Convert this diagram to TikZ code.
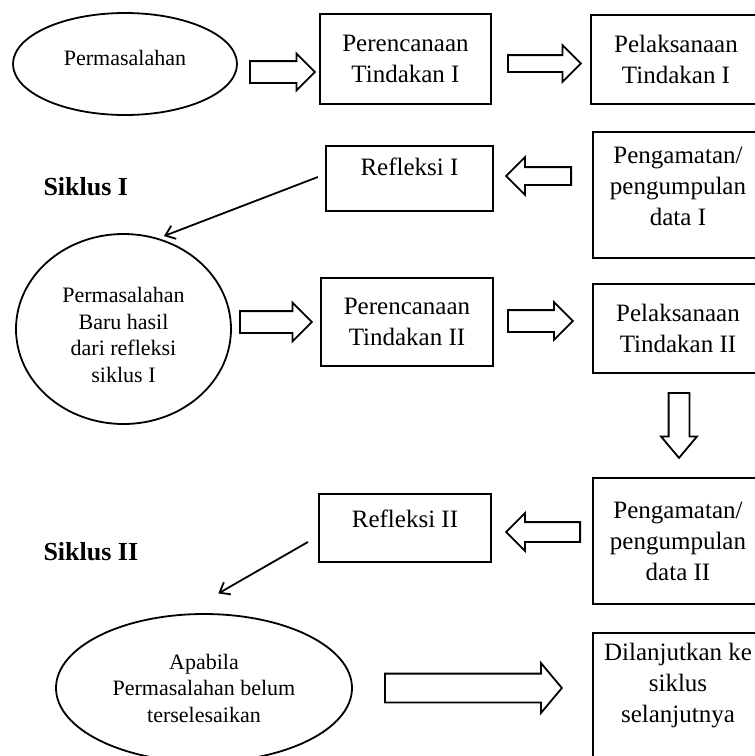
\documentclass[tikz,border=0pt]{standalone}
\usepackage{fontspec}
\setmainfont{Liberation Serif}
\usetikzlibrary{arrows.meta,positioning,calc,shapes.geometric,shapes.arrows}

\begin{document}
\begin{tikzpicture}[
  x=1pt, y=-1pt,
  box/.style={draw,line width=2.2pt,inner sep=0pt,align=center,
    font=\fontsize{25}{31}\selectfont},
  oval/.style={draw,ellipse,line width=1.8pt,inner sep=0pt,align=center,
    font=\fontsize{22}{26.5}\selectfont},
  blk/.style={draw,single arrow,line width=1.8pt,fill=white,anchor=tail,
    inner xsep=0pt,single arrow head indent=0pt},
  arr/.style={-{Straight Barb[length=9pt,width=14pt]},line width=1.8pt},
  siklus/.style={font=\fontsize{26}{30}\selectfont\bfseries,anchor=base west}
]
\useasboundingbox (0,0) rectangle (755,756);
\fill[white] (0,0) rectangle (755,756);
\clip (0,0) rectangle (755,756);
% Siklus I
\node[oval,minimum width=224pt,minimum height=102pt,text height=15pt,text depth=13pt] (masalah1) at (125,64) {Permasalahan};
\node[box,minimum width=171pt,minimum height=90pt] (rencana1) at (405.5,59) {Perencanaan\\Tindakan I};
\node[box,minimum width=170pt,minimum height=89pt] (laksana1) at (676,59.5) {Pelaksanaan\\Tindakan I};
\node[box,minimum width=170pt,minimum height=126pt,text height=80pt,text depth=20pt] (amat1) at (678,195) {Pengamatan/\\pengumpulan\\data I};
\node[box,minimum width=167pt,minimum height=65pt,text depth=24pt] (refleksi1) at (409.5,178.5) {Refleksi I};
\node[blk,inner ysep=10pt,single arrow head extend=7.5pt,minimum height=65pt] (b1) at (249,72) {};
\node[blk,inner ysep=7.5pt,single arrow head extend=10pt,minimum height=73pt] (b2) at (507,63.5) {};
\node[blk,rotate=180,inner ysep=8pt,single arrow head extend=10pt,minimum height=65pt] (b3) at (572,176) {};
\node[siklus] (siklus1) at (40,195) {Siklus I};
% Siklus II
\node[oval,minimum width=215pt,minimum height=190pt,text height=115pt,text depth=9pt] (masalah2) at (123.5,329) {Permasalahan\\Baru hasil\\dari refleksi\\siklus I};
\node[box,minimum width=172pt,minimum height=88pt] (rencana2) at (407,322) {Perencanaan\\Tindakan II};
\node[box,minimum width=170pt,minimum height=89pt] (laksana2) at (678,328.5) {Pelaksanaan\\Tindakan II};
\node[box,minimum width=170pt,minimum height=126pt] (amat2) at (678,541) {Pengamatan/\\pengumpulan\\data II};
\node[box,minimum width=172pt,minimum height=68pt,text depth=19pt] (refleksi2) at (405,528) {Refleksi II};
\node[blk,inner ysep=10pt,single arrow head extend=8.5pt,minimum height=72pt] (b4) at (239,322) {};
\node[blk,inner ysep=10pt,single arrow head extend=8pt,minimum height=65pt] (b5) at (507,321) {};
\node[blk,rotate=-90,inner ysep=9.5pt,single arrow head extend=7.5pt,single arrow tip angle=80,minimum height=65pt] (b6) at (679,392) {};
\node[blk,rotate=180,inner ysep=9pt,single arrow head extend=9pt,minimum height=74pt] (b7) at (581,532) {};
\node[siklus] (siklus2) at (40,560) {Siklus II};
% lanjut
\node[oval,minimum width=296pt,minimum height=148pt] (masalah3) at (204,688) {Apabila\\Permasalahan belum\\terselesaikan};
\node[box,minimum width=170pt,minimum height=156pt,text height=85pt,text depth=63pt] (lanjut) at (678,711) {Dilanjutkan ke\\siklus\\selanjutnya};
\node[blk,inner ysep=13.5pt,single arrow head extend=10.5pt,single arrow tip angle=100,minimum height=177pt] (b8) at (384,688) {};
% refleksi ke masalah baru
\draw[arr,shorten >=6pt] ($(refleksi1.west)+(-7,-1.5)$) -- (masalah2.69);
\draw[arr,shorten >=41pt] ($(refleksi2.west)+(-10,14)$) -- (masalah3.106);
\end{tikzpicture}
\end{document}
